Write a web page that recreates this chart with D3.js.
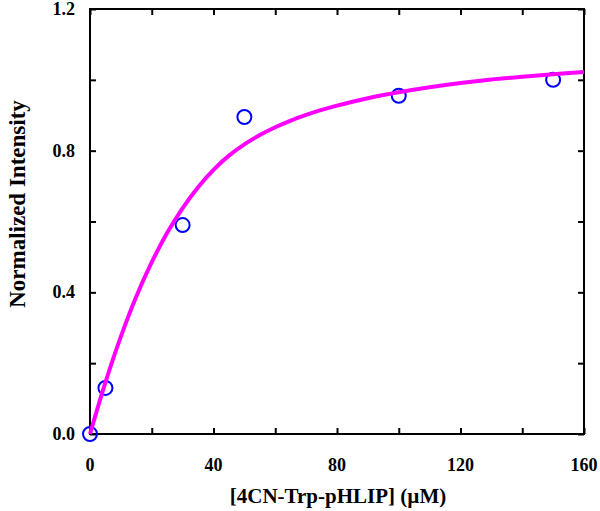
<!DOCTYPE html>
<html>
<head>
<meta charset="utf-8">
<script src="https://cdn.jsdelivr.net/npm/d3@7"></script>
<style>
  body { margin: 0; background: #fff; }
  text { font-family: "Liberation Serif", "Times New Roman", serif; font-weight: bold; }
</style>
</head>
<body>
<div id="chart"></div>
<script>
// Measured points
var concX = [0, 5, 30, 50, 100, 150];
var intensityY = [0, 0.13, 0.59, 0.895, 0.955, 1.0];

// Fitted curve
var fitX = [0, 5, 10, 15, 20, 25, 30, 35, 40, 45, 50, 55, 60, 65, 70, 75, 80, 85, 90, 95, 100, 110, 120, 130, 140, 150, 160];
var fitY = [0, 0.146, 0.275, 0.388, 0.485, 0.568, 0.638, 0.697, 0.746, 0.786, 0.818, 0.844, 0.866, 0.885, 0.901, 0.915, 0.927, 0.938, 0.948, 0.957, 0.965, 0.979, 0.991, 1.001, 1.009, 1.016, 1.022];

var xTicks = [0, 40, 80, 120, 160];
var xMinor = [20, 60, 100, 140];
var yTicks = [0, 0.4, 0.8, 1.2];
var yMinor = [0.2, 0.6, 1.0];

var svgWidth = 600;
var svgHeight = 511;

var margin = { top: 9, right: 16, bottom: 77, left: 90 };

var width = svgWidth - margin.left - margin.right;
var height = svgHeight - margin.top - margin.bottom;

var svg = d3.select("#chart")
    .append("svg")
    .attr("width", svgWidth)
    .attr("height", svgHeight);

var chartGroup = svg.append("g")
    .attr("transform", `translate(${margin.left}, ${margin.top})`);

var xScale = d3.scaleLinear().domain([0, 160]).range([0, width]);
var yScale = d3.scaleLinear().domain([0, 1.2]).range([height, 0]);

// ticks point inward on all four sides
function addAxis(axis, transform) {
    var g = chartGroup.append("g")
        .attr("transform", transform)
        .call(axis);
    g.select(".domain").remove();
    g.selectAll(".tick line").attr("stroke", "#000").attr("stroke-width", 2);
    g.selectAll("text").remove();
    return g;
}
var allX = xTicks.concat(xMinor);
var allY = yTicks.concat(yMinor);
addAxis(d3.axisBottom(xScale).tickValues(allX).tickSize(-6), `translate(0, ${height})`);
addAxis(d3.axisTop(xScale).tickValues(allX).tickSize(-6), "translate(0, 0)");
addAxis(d3.axisLeft(yScale).tickValues(allY).tickSize(-6), "translate(0, 0)");
addAxis(d3.axisRight(yScale).tickValues(allY).tickSize(-6), `translate(${width}, 0)`);

// frame
chartGroup.append("rect")
    .attr("width", width)
    .attr("height", height)
    .attr("fill", "none")
    .attr("stroke", "#000")
    .attr("stroke-width", 2);

// tick labels
chartGroup.selectAll(".xlab")
    .data(xTicks)
    .enter()
    .append("text")
    .attr("x", d => xScale(d))
    .attr("y", height + 37)
    .attr("text-anchor", "middle")
    .attr("font-size", "18px")
    .text(d => d);

chartGroup.selectAll(".ylab")
    .data(yTicks)
    .enter()
    .append("text")
    .attr("x", -15)
    .attr("y", d => yScale(d) + 6)
    .attr("text-anchor", "end")
    .attr("font-size", "18px")
    .text(d => d.toFixed(1));

// data circles
chartGroup.selectAll("circle")
    .data(concX)
    .enter()
    .append("circle")
    .attr("cx", d => xScale(d))
    .attr("cy", (d, i) => yScale(intensityY[i]))
    .attr("r", 7)
    .attr("fill", "none")
    .attr("stroke", "#0000ff")
    .attr("stroke-width", 2);

// fit curve on top
var line = d3.line()
    .x(d => xScale(d[0]))
    .y(d => yScale(d[1]))
    .curve(d3.curveCatmullRom);

chartGroup.append("path")
    .datum(fitX.map((x, i) => [x, fitY[i]]))
    .attr("d", line)
    .attr("fill", "none")
    .attr("stroke", "#ff00ff")
    .attr("stroke-width", 4);

// axis titles
svg.append("text")
    .attr("x", 338)
    .attr("y", 503)
    .attr("text-anchor", "middle")
    .attr("font-size", "21px")
    .text("[4CN-Trp-pHLIP] (\u00b5M)");

svg.append("text")
    .attr("transform", "translate(25, 204) rotate(-90)")
    .attr("text-anchor", "middle")
    .attr("font-size", "23px")
    .text("Normalized Intensity");
</script>
</body>
</html>
